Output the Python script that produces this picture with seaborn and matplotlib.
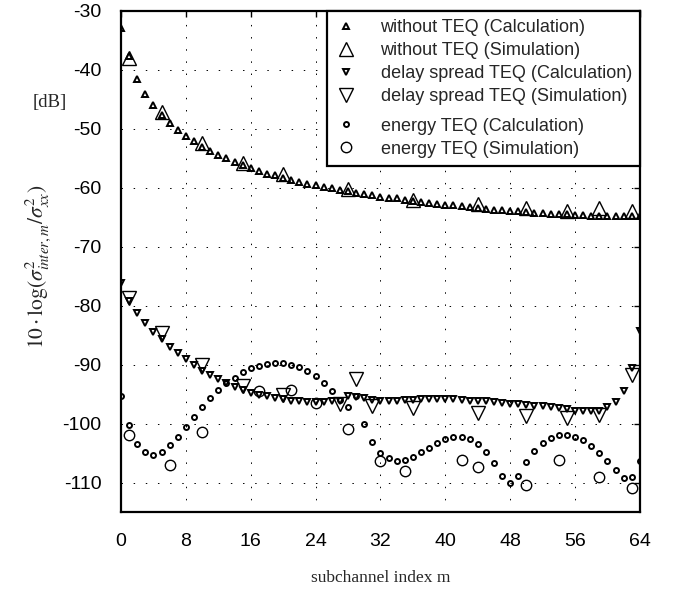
import numpy as np
import pandas as pd
import matplotlib
matplotlib.use("Agg")
import matplotlib.pyplot as plt
from matplotlib.offsetbox import DrawingArea
import seaborn as sns

# subchannel indices of the calculated curves
m_calc = np.arange(65)

# without TEQ
wo_calc = [-32.9, -37.7, -41.6, -44.1, -46.0, -47.6, -49.0, -50.2, -51.2, -52.1,
           -53.0, -53.7, -54.4, -55.0, -55.6, -56.1, -56.6, -57.1, -57.6, -57.9,
           -58.3, -58.6, -59.0, -59.3, -59.6, -59.9, -60.1, -60.4, -60.6, -60.9,
           -61.1, -61.3, -61.5, -61.7, -61.8, -62.0, -62.2, -62.4, -62.6, -62.8,
           -62.9, -63.0, -63.1, -63.3, -63.4, -63.6, -63.7, -63.8, -63.9, -64.0,
           -64.1, -64.2, -64.3, -64.4, -64.4, -64.5, -64.6, -64.6, -64.7, -64.7,
           -64.7, -64.7, -64.8, -64.8, -64.8]
wo_sim_m = [1, 5, 10, 15, 20, 28, 36, 44, 50, 55, 59, 63]
wo_sim = [-38.0, -47.2, -52.4, -55.8, -57.7, -60.2, -62.1, -62.7, -63.5, -64.0, -63.5, -64.0]

# delay spread TEQ
ds_calc = [-76.2, -79.2, -81.2, -82.9, -84.4, -85.7, -87.0, -88.1, -89.1, -90.1,
           -91.1, -91.8, -92.5, -93.2, -93.8, -94.3, -94.8, -95.1, -95.4, -95.6,
           -95.9, -96.1, -96.2, -96.3, -96.3, -96.3, -96.2, -96.1, -95.3, -95.5,
           -95.7, -96.0, -96.1, -96.1, -96.1, -96.0, -96.0, -95.9, -95.9, -95.9,
           -95.9, -95.9, -96.0, -96.1, -96.2, -96.2, -96.3, -96.45, -96.6, -96.6,
           -96.8, -97.0, -97.1, -97.25, -97.4, -97.6, -97.8, -97.9, -97.95, -97.8,
           -97.2, -96.3, -94.4, -90.6, -84.3]
ds_sim_m = [1, 5, 10, 15, 20, 27, 29, 31, 36, 44, 50, 55, 59, 63]
ds_sim = [-78.7, -84.7, -90.1, -93.7, -95.2, -96.6, -92.4, -97.0, -97.4, -98.2,
          -98.7, -99.0, -98.6, -91.8]

# energy TEQ
en_calc = [-95.4, -100.3, -103.5, -104.9, -105.3, -104.8, -103.7, -102.2, -100.5, -98.8,
           -97.2, -95.7, -94.3, -93.2, -92.2, -91.3, -90.6, -90.2, -89.9, -89.7,
           -89.8, -90.0, -90.4, -91.0, -91.9, -93.1, -94.5, -96.0, -97.2, -95.4,
           -100.0, -103.1, -105.0, -105.9, -106.3, -106.1, -105.6, -104.9, -104.1, -103.3,
           -102.6, -102.3, -102.3, -102.7, -103.5, -104.8, -106.7, -108.9, -110.0, -108.9,
           -106.6, -104.7, -103.3, -102.5, -102.0, -102.0, -102.3, -102.8, -103.8, -105.0,
           -106.4, -107.9, -109.2, -109.0, -106.4]
en_sim_m = [1, 6, 10, 17, 21, 24, 28, 32, 35, 42, 44, 50, 54, 59, 63]
en_sim = [-101.9, -107.0, -101.5, -94.5, -94.3, -96.5, -101.0, -106.4, -108.1,
          -106.1, -107.4, -110.5, -106.1, -109.1, -111.0]

x_ticks = [0, 8, 16, 24, 32, 40, 48, 56, 64]
y_ticks = [-110, -100, -90, -80, -70, -60, -50, -40, -30]

sns.set_theme(style="white")
plt.rcParams["font.family"] = ["Liberation Sans", "DejaVu Sans"]
plt.rcParams["mathtext.fontset"] = "stix"
plt.rcParams["axes.unicode_minus"] = False

fig = plt.figure(figsize=(6.8, 5.97), dpi=100)
ax = fig.add_axes([0.178, 0.1424, 0.763, 0.8392])

series = [
    (m_calc, wo_calc, "^", 4.0, "without TEQ (Calculation)"),
    (wo_sim_m, wo_sim, "^", 10.0, "without TEQ (Simulation)"),
    (m_calc, ds_calc, "v", 4.0, "delay spread TEQ (Calculation)"),
    (ds_sim_m, ds_sim, "v", 10.0, "delay spread TEQ (Simulation)"),
    (m_calc, en_calc, "o", 3.6, "energy TEQ (Calculation)"),
    (en_sim_m, en_sim, "o", 7.5, "energy TEQ (Simulation)"),
]
for xs, ys, mk, ms, lab in series:
    df = pd.DataFrame({"m": xs, "v": ys})
    sns.lineplot(data=df, x="m", y="v", ax=ax, marker=mk, markersize=ms,
                 linestyle="", color="black", markerfacecolor="none",
                 markeredgecolor="black", markeredgewidth=1.4 if ms < 5 else 1.0,
                 label=lab, zorder=3)

ax.set_xlim(0, 64)
ax.set_ylim(-115, -30)
ax.set_xticks(x_ticks)
ax.set_yticks(y_ticks)
ax.grid(True, color="black", linestyle=(0, (1.5, 11)), linewidth=0.7)
ax.tick_params(direction="in", length=4, width=1, top=True, right=True,
               labelsize=14, colors="black")
ax.tick_params(axis="y", pad=14)
ax.tick_params(axis="x", pad=15)
for s in ax.spines.values():
    s.set_linewidth(1.6)
    s.set_color("black")

ax.set_xlabel("subchannel index m", family="Liberation Serif", fontsize=12.5,
              va="center")
ax.xaxis.set_label_coords(0.5, -0.132)
ax.set_ylabel(r"$\mathrm{10\cdot log}(\sigma^2_{inter,m}/\sigma^2_{xx})$",
              fontsize=15.5, va="center")
ax.yaxis.set_label_coords(-0.16, 0.49)
fig.text(50 / 680, 1 - 103 / 597, "[dB]", family="Liberation Serif",
         fontsize=13.5, ha="center", va="center")

leg = ax.legend(loc="upper right", borderaxespad=0, numpoints=1, fontsize=13,
                frameon=True, fancybox=False, framealpha=1, borderpad=0.45,
                handlelength=1.2, handletextpad=1.3, labelspacing=0.33)
leg.get_frame().set_edgecolor("black")
leg.get_frame().set_linewidth(1.6)
# small extra gap before the energy TEQ entries
col = leg._legend_handle_box.get_children()[0]
col._children.insert(4, DrawingArea(1, 0.5))

fig.savefig("out.png", dpi=100)
